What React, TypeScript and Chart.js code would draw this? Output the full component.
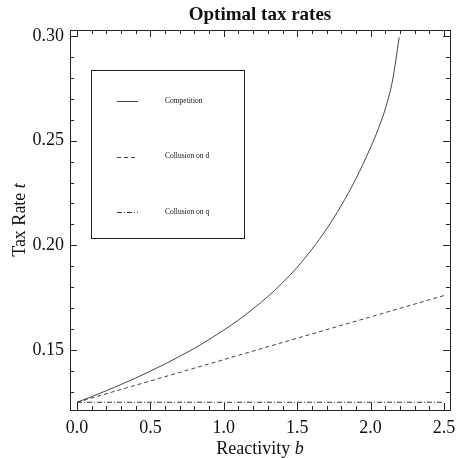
import { Chart, ChartConfiguration, registerables } from "chart.js";
import { useEffect, useRef } from "react";

Chart.register(...registerables);

// reactivity b values and competition tax rate
const bCompetition = [0, 0.1, 0.2, 0.3, 0.4, 0.5, 0.6, 0.7, 0.8, 0.9, 1.0, 1.1, 1.2, 1.3, 1.4, 1.5, 1.6, 1.7, 1.8, 1.9, 2.0, 2.05, 2.1, 2.15, 2.195];
const tCompetition = [0.125, 0.1277, 0.13055, 0.1335, 0.1366, 0.1399, 0.1433, 0.147, 0.1508, 0.155, 0.1595, 0.1643, 0.1697, 0.1755, 0.1821, 0.1895, 0.1981, 0.2078, 0.219, 0.2318, 0.2468, 0.2552, 0.2652, 0.279, 0.2994];

const bCollusionD = [0, 2.5];
const tCollusionD = [0.125, 0.176];

const bCollusionQ = [0, 2.5];
const tCollusionQ = [0.125, 0.125];

const seriesNames = ["Competition", "Collusion on d", "Collusion on q"];

const xMajorTicks = [0, 0.5, 1.0, 1.5, 2.0, 2.5];
const yMajorTicks = [0.15, 0.2, 0.25, 0.3];

const SERIF = "'Liberation Serif', 'Times New Roman', serif";

const toPoints = (xs: number[], ys: number[]) => xs.map((x, i) => ({ x, y: ys[i] }));

// frame, inward ticks, titles and the boxed legend
const framePlugin = {
  id: "frame",
  afterDraw(chart: Chart) {
    const { ctx, chartArea: a, scales } = chart;
    const xs = scales.x;
    const ys = scales.y;
    ctx.save();
    ctx.strokeStyle = "#222";
    ctx.lineWidth = 1;
    ctx.strokeRect(a.left + 0.5, a.top + 0.5, a.right - a.left, a.bottom - a.top);

    // x ticks every 0.1, major every 0.5
    for (let i = 0; i <= 25; i++) {
      const v = i / 10;
      const px = Math.round(xs.getPixelForValue(v)) + 0.5;
      const len = i % 5 === 0 ? 7 : 4;
      ctx.beginPath();
      ctx.moveTo(px, a.bottom);
      ctx.lineTo(px, a.bottom - len);
      ctx.moveTo(px, a.top);
      ctx.lineTo(px, a.top + len);
      ctx.stroke();
    }
    // y ticks every 0.01, major every 0.05
    for (let i = 13; i <= 30; i++) {
      const v = i / 100;
      const py = Math.round(ys.getPixelForValue(v)) + 0.5;
      const len = i % 5 === 0 ? 7 : 4;
      ctx.beginPath();
      ctx.moveTo(a.left, py);
      ctx.lineTo(a.left + len, py);
      ctx.moveTo(a.right, py);
      ctx.lineTo(a.right - len, py);
      ctx.stroke();
    }

    const cx = (a.left + a.right) / 2;
    ctx.fillStyle = "#111";
    ctx.textAlign = "center";
    ctx.textBaseline = "alphabetic";
    ctx.font = `bold 19px ${SERIF}`;
    ctx.fillText("Optimal tax rates", cx, 20);

    // x axis title with italic b
    const xt1 = "Reactivity ";
    ctx.font = `18px ${SERIF}`;
    const w1 = ctx.measureText(xt1).width;
    ctx.font = `italic 18px ${SERIF}`;
    const w2 = ctx.measureText("b").width;
    let sx = cx - (w1 + w2) / 2;
    ctx.textAlign = "left";
    ctx.font = `18px ${SERIF}`;
    ctx.fillText(xt1, sx, 454);
    ctx.font = `italic 18px ${SERIF}`;
    ctx.fillText("b", sx + w1, 454);

    // y axis title with italic t
    ctx.save();
    ctx.translate(25, (a.top + a.bottom) / 2);
    ctx.rotate(-Math.PI / 2);
    ctx.font = `18px ${SERIF}`;
    const yt1 = "Tax Rate ";
    const v1 = ctx.measureText(yt1).width;
    ctx.font = `italic 18px ${SERIF}`;
    const v2 = ctx.measureText("t").width;
    sx = -(v1 + v2) / 2;
    ctx.font = `18px ${SERIF}`;
    ctx.fillText(yt1, sx, 0);
    ctx.font = `italic 18px ${SERIF}`;
    ctx.fillText("t", sx + v1, 0);
    ctx.restore();

    // legend box
    ctx.strokeStyle = "#222";
    ctx.strokeRect(91.5, 70.5, 153, 168);
    ctx.font = `7.5px ${SERIF}`;
    ctx.textBaseline = "middle";
    chart.data.datasets.forEach((ds: any, i: number) => {
      const y = 101 + i * 55.5;
      ctx.strokeStyle = ds.borderColor;
      ctx.lineWidth = 1;
      ctx.setLineDash(ds.borderDash || []);
      ctx.beginPath();
      ctx.moveTo(117, Math.round(y) + 0.5);
      ctx.lineTo(138, Math.round(y) + 0.5);
      ctx.stroke();
      ctx.setLineDash([]);
      ctx.fillStyle = "#111";
      ctx.fillText(ds.label, 165, y);
    });
    ctx.restore();
  },
};

const App: React.FC = () => {
  const canvasRef = useRef<HTMLCanvasElement | null>(null);
  const chartRef = useRef<Chart | null>(null);

  useEffect(() => {
    document.body.style.margin = "0";

    const config: ChartConfiguration = {
      type: "line",
      data: {
        datasets: [
          {
            label: seriesNames[0],
            data: toPoints(bCompetition, tCompetition),
            borderColor: "#444",
            borderWidth: 1,
            pointRadius: 0,
            cubicInterpolationMode: "monotone",
          },
          {
            label: seriesNames[1],
            data: toPoints(bCollusionD, tCollusionD),
            borderColor: "#444",
            borderWidth: 1,
            borderDash: [4, 3],
            pointRadius: 0,
          },
          {
            label: seriesNames[2],
            data: toPoints(bCollusionQ, tCollusionQ),
            borderColor: "#333",
            borderWidth: 1,
            borderDash: [5, 2, 1, 2],
            pointRadius: 0,
          },
        ],
      },
      options: {
        animation: false,
        responsive: false,
        devicePixelRatio: 1,
        layout: { padding: { top: 30, right: 7, left: 0, bottom: 0 } },
        plugins: {
          legend: { display: false },
          title: { display: false },
          tooltip: { enabled: false },
        },
        scales: {
          x: {
            type: "linear",
            min: -0.048,
            max: 2.541,
            grid: { display: false, drawTicks: false },
            border: { display: false },
            afterBuildTicks: (scale: any) => {
              scale.ticks = xMajorTicks.map((v) => ({ value: v }));
            },
            afterFit: (scale: any) => {
              scale.height = 48;
              scale.paddingLeft = 0;
              scale.paddingRight = 0;
            },
            ticks: {
              padding: 7,
              color: "#111",
              font: { family: SERIF, size: 18 },
              maxRotation: 0,
              callback: (v: any) => Number(v).toFixed(1),
            },
          },
          y: {
            type: "linear",
            min: 0.1213,
            max: 0.3029,
            grid: { display: false, drawTicks: false },
            border: { display: false },
            afterBuildTicks: (scale: any) => {
              scale.ticks = yMajorTicks.map((v) => ({ value: v }));
            },
            afterFit: (scale: any) => {
              scale.width = 70;
              scale.paddingTop = 0;
              scale.paddingBottom = 0;
            },
            ticks: {
              padding: 6,
              color: "#111",
              font: { family: SERIF, size: 18 },
              callback: (v: any) => Number(v).toFixed(2),
            },
          },
        },
      },
      plugins: [framePlugin],
    };

    if (chartRef.current) {
      chartRef.current.destroy();
    }
    if (canvasRef.current) {
      chartRef.current = new Chart(canvasRef.current, config);
    }
    return () => {
      if (chartRef.current) {
        chartRef.current.destroy();
        chartRef.current = null;
      }
    };
  }, []);

  return (
    <div style={{ width: 457, height: 458 }}>
      <canvas ref={canvasRef} width={457} height={458} style={{ width: 457, height: 458 }} />
    </div>
  );
};

export default App;
